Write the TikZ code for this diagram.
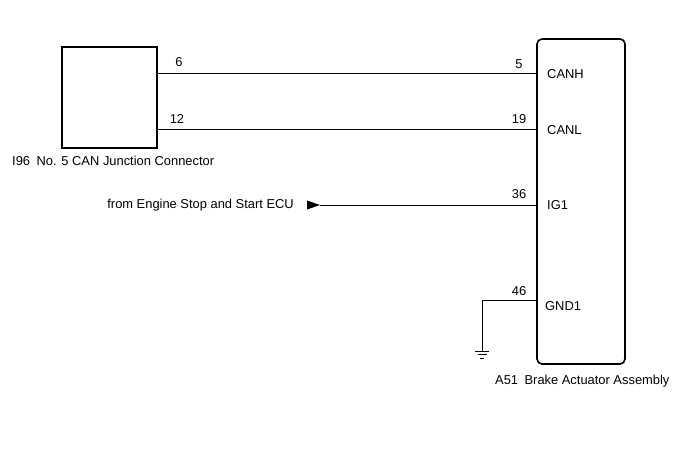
\documentclass[tikz,border=0pt]{standalone}
\usepackage{fontspec}
\setmainfont{Liberation Sans}
\begin{document}
\begin{tikzpicture}[x=1pt,y=-1pt,font=\fontsize{12.9}{15}\selectfont,
 wire/.style={line width=0.6pt},
 box/.style={draw,line width=1.6pt},
 lbl/.style={inner sep=0pt}]
\useasboundingbox (0,0) rectangle (688,463);
\draw[box] (62,47) rectangle (157,148);
\draw[box,rounded corners=5pt] (537,39) rectangle (625,364);
\coordinate (a6) at (157,73); \coordinate (b5) at (537,73);
\coordinate (a12) at (157,129); \coordinate (b19) at (537,129);
\coordinate (b36) at (537,205); \coordinate (tip) at (320,205);
\coordinate (b46) at (537,300); \coordinate (gc) at (482,300); \coordinate (g) at (482,351);
\draw[wire] (a6) -- (b5);
\draw[wire] (a12) -- (b19);
\draw[wire] (tip) -- (b36);
\fill (307,200.5) -- (320,205) -- (307,209.5) -- cycle;
\draw[wire] (b46) -- (gc) -- (g);
\draw[wire] (475,351) -- (489,351) (477.5,354.5) -- (486.5,354.5) (480,358) -- (484,358);
\node[lbl] (n6) at (179,62) {6};
\node[lbl] (n5) at (519,64) {5};
\node[lbl] (n12) at (177,119) {12};
\node[lbl] (n19) at (519,119) {19};
\node[lbl] (n36) at (519,194) {36};
\node[lbl] (n46) at (519,291) {46};
\node[lbl,anchor=west] (canh) at (547,74) {CANH};
\node[lbl,anchor=west] (canl) at (547,130) {CANL};
\node[lbl,anchor=west] (ig1) at (547,205) {IG1};
\node[lbl,anchor=west] (gnd1) at (545,306) {GND1};
\node[lbl,anchor=east] (from) at (294,205) {from Engine Stop and Start ECU};
\node[lbl,anchor=west] (i96) at (12,161) {I96\enspace No. 5 CAN Junction Connector};
\node[lbl,anchor=west] (a51) at (495,381) {A51\enspace Brake Actuator Assembly};
\end{tikzpicture}
\end{document}
